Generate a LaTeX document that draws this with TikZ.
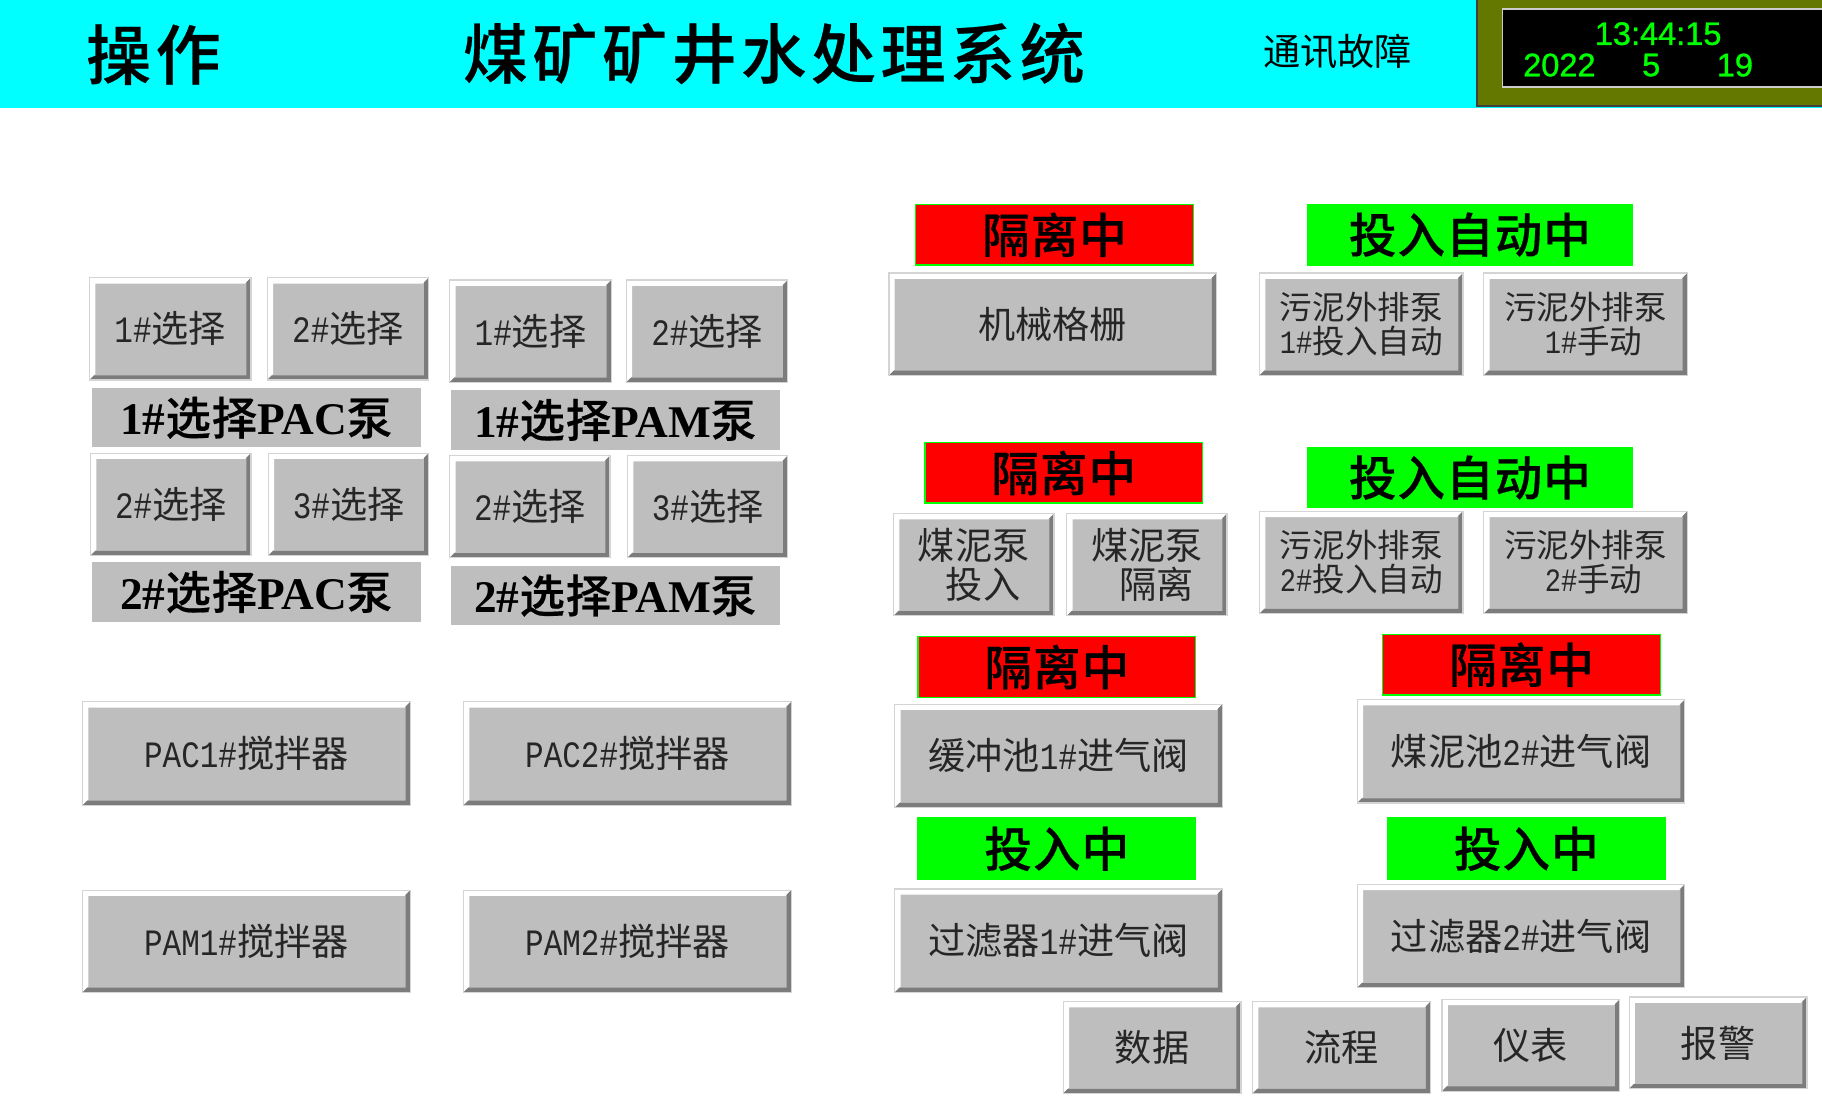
\documentclass[tikz,border=0pt]{standalone}
\usepackage{fontspec}
\setmainfont{Noto Sans CJK SC}
\newfontfamily\clockfont{Liberation Sans}[FakeBold=1]
\newfontfamily\titlefont{Noto Sans CJK SC}[UprightFont=* Medium, LetterSpace=7, FakeBold=0.4]
\newfontfamily\statefont{Noto Sans CJK SC}[UprightFont=* Medium, LetterSpace=2, FakeBold=0.4]
\newfontfamily\latinbold{Liberation Serif}
\newfontfamily\hmimono{Liberation Mono}[FakeStretch=0.833]
\newcommand{\lat}[1]{{\latinbold\bfseries #1}}
\newcommand{\asc}[1]{{\hmimono #1}}
\definecolor{bandcyan}{HTML}{00FFFF}
\definecolor{lampgreen}{HTML}{00FF00}
\definecolor{lampred}{HTML}{FF0000}
\definecolor{btnface}{HTML}{BEBEBE}
\definecolor{btnedge}{HTML}{D4D4D4}
\definecolor{btnshade}{HTML}{7C7C7C}
\definecolor{panelolive}{HTML}{647800}
\tikzset{
	flatbox/.style={inner sep=0pt, outer sep=0pt, align=center},
	hmibtn/.style={flatbox, fill=btnface, draw=btnedge, line width=0.5pt, text=black!85,
		font=\fontsize{16}{16.5}\selectfont,
		path picture={
			\fill [white] (path picture bounding box.north west) -- (path picture bounding box.north east)
				-- ([xshift=-2.5pt,yshift=-2.5pt]path picture bounding box.north east)
				-- ([xshift=2.5pt,yshift=-2.5pt]path picture bounding box.north west)
				-- ([xshift=2.5pt,yshift=2.5pt]path picture bounding box.south west)
				-- (path picture bounding box.south west) -- cycle;
			\fill [btnshade] (path picture bounding box.south east) -- (path picture bounding box.north east)
				-- ([xshift=-2pt,yshift=-2pt]path picture bounding box.north east)
				-- ([xshift=-2pt,yshift=2pt]path picture bounding box.south east)
				-- ([xshift=2pt,yshift=2pt]path picture bounding box.south west)
				-- (path picture bounding box.south west) -- cycle;
		}},
	pumplabel/.style={flatbox, fill=btnface, font=\statefont\fontsize{19.5}{20}\selectfont},
	statebox/.style={flatbox, draw=lampgreen, line width=0.6pt, font=\statefont\fontsize{20.5}{20.5}\selectfont},
	clocktext/.style={inner sep=0pt, text=lampgreen, font=\clockfont\fontsize{14}{14}\selectfont},
}
\begin{document}
\begin{tikzpicture}[x=0.5pt, y=-0.5pt]
	\useasboundingbox (0, 0) rectangle (1568, 942.4);

	% header band
	\fill [bandcyan] (0, 0) rectangle (1568, 93);
	\fill [panelolive] (1271, 0) rectangle (1568, 91);
	\draw [black!75, line width=0.8pt] (1271, 0) -- (1271, 91) -- (1568, 91);
	\draw [fill=black, draw=black!20, line width=0.7pt] (1293, 8) rectangle (1570, 75);
	\node (pagename) at (132, 47) [inner sep=0pt, font=\titlefont\fontsize{28}{28}\selectfont] {操作};
	\node (systitle) at (666, 46) [inner sep=0pt, font=\titlefont\fontsize{28}{28}\selectfont] {煤矿矿井水处理系统};
	\node (commfault) at (1151, 44) [inner sep=0pt, font=\fontsize{16}{16}\selectfont] {通讯故障};
	\node (clocktime) at (1427, 29) [clocktext] {13:44:15};
	\node (clockyear) at (1342, 56) [clocktext] {2022};
	\node (clockmonth) at (1421, 56) [clocktext] {5};
	\node (clockday) at (1493, 56) [clocktext] {19};

	% push buttons: name/left/top/right/bottom/text
	\foreach \nm/\xa/\ya/\xb/\yb/\txt in {
		pacaone/77/239/216/327/{\asc{1\#}选择}, pacatwo/230/239/369/327/{\asc{2\#}选择},
		pamaone/387/241/526/329/{\asc{1\#}选择}, pamatwo/539/241/678/329/{\asc{2\#}选择},
		pacbtwo/78/390/216/478/{\asc{2\#}选择}, pacbthree/231/390/369/478/{\asc{3\#}选择},
		pambtwo/387/392/525/480/{\asc{2\#}选择}, pambthree/540/392/678/480/{\asc{3\#}选择},
		pacmixone/71/604/353/693/{\asc{PAC1\#}搅拌器}, pacmixtwo/399/604/681/693/{\asc{PAC2\#}搅拌器},
		pammixone/71/766/353/854/{\asc{PAM1\#}搅拌器}, pammixtwo/399/766/681/854/{\asc{PAM2\#}搅拌器},
		screen/765/235/1047/323/{机械格栅},
		slurryin/769/442/907/530/{煤泥泵\\\hspace{8pt}投入}, slurryout/918/442/1056/530/{煤泥泵\\\hspace{8pt}隔离},
		bufvalve/770/606/1052/695/{缓冲池\asc{1\#}进气阀}, slurryvalve/1168/602/1450/691/{煤泥池\asc{2\#}进气阀},
		filtone/770/765/1052/854/{过滤器\asc{1\#}进气阀}, filttwo/1168/761/1450/850/{过滤器\asc{2\#}进气阀},
		data/915/862/1068/941/{数据}, flow/1078/862/1231/941/{流程},
		meter/1241/860/1394/939/{仪表}, alarm/1402/858/1555/937/{报警}}
		\node (\nm) at ({(\xa+\xb)/2}, {(\ya+\yb)/2}) [hmibtn, minimum width={(\xb-\xa)*0.5pt}, minimum height={(\yb-\ya)*0.5pt}] {\txt};

	% two line sludge buttons
	\foreach \nm/\xa/\ya/\xb/\yb/\txt in {
		sludgeoneauto/1084/235/1259/323/{污泥外排泵\\\asc{1\#}投入自动}, sludgeonehand/1277/235/1452/323/{污泥外排泵\\\hspace{7pt}\asc{1\#}手动},
		sludgetwoauto/1084/440/1259/528/{污泥外排泵\\\asc{2\#}投入自动}, sludgetwohand/1277/440/1452/528/{污泥外排泵\\\hspace{7pt}\asc{2\#}手动}}
		\node (\nm) at ({(\xa+\xb)/2}, {(\ya+\yb)/2}) [hmibtn, font=\fontsize{14}{14.5}\selectfont, minimum width={(\xb-\xa)*0.5pt}, minimum height={(\yb-\ya)*0.5pt}] {\txt};

	% pump labels
	\foreach \nm/\xa/\ya/\xb/\yb/\txt in {
		pacone/79/334/362/385/{\lat{1\#}选择\lat{PAC}泵}, pamone/388/336/671/387/{\lat{1\#}选择\lat{PAM}泵},
		pactwo/79/484/362/535/{\lat{2\#}选择\lat{PAC}泵}, pamtwo/388/487/671/538/{\lat{2\#}选择\lat{PAM}泵}}
		\node (\nm) at ({(\xa+\xb)/2}, {(\ya+\yb)/2}) [pumplabel, minimum width={(\xb-\xa)*0.5pt}, minimum height={(\yb-\ya)*0.5pt}] {\txt};

	% state lamps
	\foreach \nm/\xa/\ya/\xb/\yb/\col/\txt in {
		screenstate/788/176/1027/228/lampred/隔离中, oneautostate/1125/176/1405/228/lampgreen/投入自动中,
		slurrystate/796/381/1035/433/lampred/隔离中, twoautostate/1125/385/1405/437/lampgreen/投入自动中,
		bufstate/790/548/1029/600/lampred/隔离中, slurryvalvestate/1190/546/1429/598/lampred/隔离中,
		filtonestate/790/704/1029/757/lampgreen/投入中, filttwostate/1194/704/1433/757/lampgreen/投入中}
		\node (\nm) at ({(\xa+\xb)/2}, {(\ya+\yb)/2}) [statebox, fill=\col, minimum width={(\xb-\xa)*0.5pt}, minimum height={(\yb-\ya)*0.5pt}] {\txt};
\end{tikzpicture}
\end{document}
